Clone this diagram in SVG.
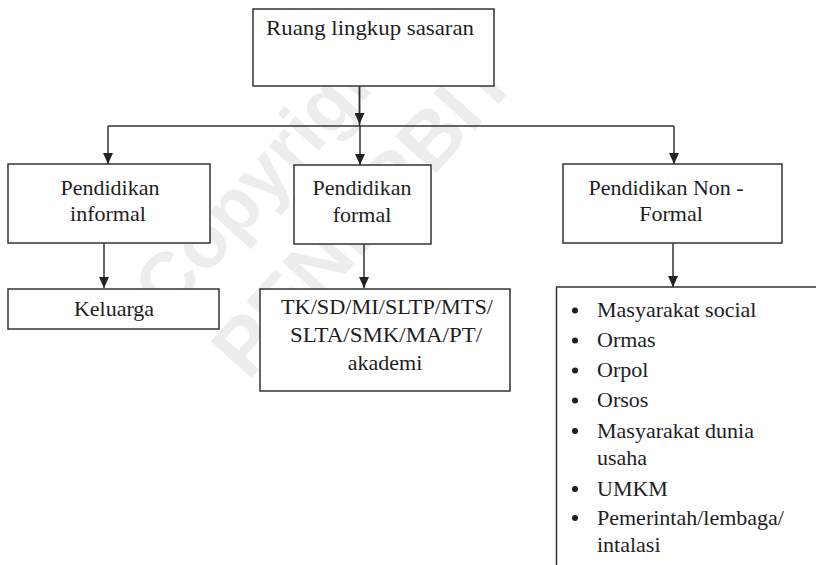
<svg xmlns="http://www.w3.org/2000/svg" width="816" height="565" viewBox="0 0 816 565">
<defs>
<marker id="ah" markerUnits="userSpaceOnUse" markerWidth="12" markerHeight="10" refX="11" refY="5" orient="auto">
<path d="M0,0 L11,5 L0,10 z" fill="#222"/>
</marker>
</defs>
<style>
.box{fill:#fff;stroke:#333;stroke-width:1.5}
.t{font-family:'Liberation Serif','Times New Roman',Times,Tinos,'Noto Serif','DejaVu Serif',serif;font-size:22px;fill:#1e1e1e}
.c{text-anchor:middle}
.ln{stroke:#333;stroke-width:1.5;fill:none}
.wm{font-family:'Liberation Sans',Arial,sans-serif;font-weight:bold;fill:#ededed}
.dot{fill:#1e1e1e}
</style>
<rect width="816" height="565" fill="#fff"/>
<g id="watermark">
<text class="wm" x="168" y="318" font-size="76" transform="rotate(-48 168 318)">Copyright</text>
<text class="wm" x="248" y="382" font-size="80" transform="rotate(-48 248 382)">PENERBIT</text>
</g>
<g id="connectors">
<line class="ln" x1="359.5" y1="86" x2="359.5" y2="126"/>
<line class="ln" x1="359.5" y1="86" x2="359.5" y2="124" marker-end="url(#ah)"/>
<line class="ln" x1="108" y1="126" x2="674" y2="126"/>
<line class="ln" x1="108" y1="126" x2="108" y2="164" marker-end="url(#ah)"/>
<line class="ln" x1="360" y1="126" x2="360" y2="165" marker-end="url(#ah)"/>
<line class="ln" x1="674" y1="126" x2="674" y2="164" marker-end="url(#ah)"/>
<line class="ln" x1="104" y1="243" x2="104" y2="288" marker-end="url(#ah)"/>
<line class="ln" x1="364" y1="244" x2="364" y2="288" marker-end="url(#ah)"/>
<line class="ln" x1="673" y1="243" x2="673" y2="287" marker-end="url(#ah)"/>
</g>
<g id="n-root">
<rect class="box" x="253" y="9" width="241" height="77"/>
<text class="t" x="266" y="35" textLength="208" lengthAdjust="spacingAndGlyphs">Ruang lingkup sasaran</text>
</g>
<g id="n-informal">
<rect class="box" x="8" y="164" width="202" height="79"/>
<text class="t c" x="110" y="195">Pendidikan</text>
<text class="t c" x="108" y="221">informal</text>
</g>
<g id="n-formal">
<rect class="box" x="294" y="165" width="137" height="79"/>
<text class="t c" x="362" y="195">Pendidikan</text>
<text class="t c" x="362" y="222">formal</text>
</g>
<g id="n-nonformal">
<rect class="box" x="563" y="164" width="219" height="79"/>
<text class="t c" x="666" y="195">Pendidikan Non -</text>
<text class="t c" x="671" y="221">Formal</text>
</g>
<g id="n-keluarga">
<rect class="box" x="8" y="289" width="211" height="40"/>
<text class="t c" x="114" y="316">Keluarga</text>
</g>
<g id="n-sekolah">
<rect class="box" x="260" y="289" width="250" height="102"/>
<text class="t" x="281" y="314" textLength="212" lengthAdjust="spacingAndGlyphs">TK/SD/MI/SLTP/MTS/</text>
<text class="t" x="290" y="342" textLength="192" lengthAdjust="spacingAndGlyphs">SLTA/SMK/MA/PT/</text>
<text class="t c" x="385" y="370">akademi</text>
</g>
<g id="n-masyarakat">
<rect class="box" x="556.5" y="287" width="300" height="300"/>
<circle class="dot" cx="575" cy="310.5" r="3"/>
<text class="t" x="597" y="317">Masyarakat social</text>
<circle class="dot" cx="575" cy="340.5" r="3"/>
<text class="t" x="597" y="347">Ormas</text>
<circle class="dot" cx="575" cy="370.5" r="3"/>
<text class="t" x="597" y="377">Orpol</text>
<circle class="dot" cx="575" cy="400.5" r="3"/>
<text class="t" x="597" y="407">Orsos</text>
<circle class="dot" cx="575" cy="431" r="3"/>
<text class="t" x="597" y="437.5">Masyarakat dunia</text>
<text class="t" x="597" y="465">usaha</text>
<circle class="dot" cx="575" cy="489" r="3"/>
<text class="t" x="597" y="495.5">UMKM</text>
<circle class="dot" cx="575" cy="518" r="3"/>
<text class="t" x="597" y="524.5">Pemerintah/lembaga/</text>
<text class="t" x="597" y="551.5">intalasi</text>
</g>
</svg>
